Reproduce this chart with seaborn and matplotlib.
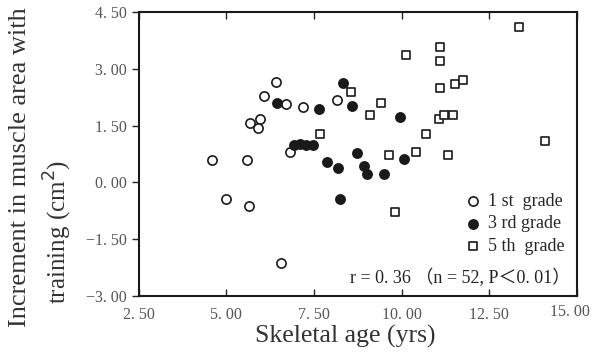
import numpy as np
import pandas as pd
import matplotlib
matplotlib.use("Agg")
import matplotlib.pyplot as plt
import matplotlib.transforms as mtransforms
import seaborn as sns

# values
first_x = [6.41, 6.07, 6.70, 7.19, 8.16, 5.68, 5.96, 5.89, 6.82, 4.58, 5.58, 4.99, 5.64, 6.56]
first_y = [2.66, 2.28, 2.06, 1.99, 2.17, 1.56, 1.68, 1.43, 0.79, 0.60, 0.58, -0.43, -0.62, -2.13]

third_x = [8.32, 6.44, 7.64, 8.59, 9.94, 6.93, 7.10, 7.27, 7.48, 8.73, 7.88, 8.19, 8.92, 9.02, 9.50, 10.06, 8.24]
third_y = [2.62, 2.09, 1.94, 2.02, 1.74, 1.00, 1.02, 1.00, 0.98, 0.77, 0.54, 0.39, 0.44, 0.23, 0.23, 0.61, -0.43]

fifth_x = [13.34, 10.11, 11.10, 11.10, 11.10, 11.52, 11.76, 8.56, 9.41, 9.09, 11.05, 11.21, 11.45,
           7.67, 10.68, 14.08, 9.64, 10.40, 11.33, 9.81]
fifth_y = [4.10, 3.37, 3.57, 3.22, 2.49, 2.59, 2.70, 2.39, 2.09, 1.79, 1.68, 1.79, 1.79,
           1.27, 1.29, 1.08, 0.73, 0.81, 0.73, -0.78]

grade_labels = ["1 st  grade", "3 rd grade", "5 th  grade"]
x_ticks = [2.5, 5.0, 7.5, 10.0, 12.5, 15.0]
y_ticks = [-3.0, -1.5, 0.0, 1.5, 3.0, 4.5]

df = pd.concat([
    pd.DataFrame({"age": first_x, "inc": first_y, "grade": grade_labels[0]}),
    pd.DataFrame({"age": third_x, "inc": third_y, "grade": grade_labels[1]}),
    pd.DataFrame({"age": fifth_x, "inc": fifth_y, "grade": grade_labels[2]}),
])

sns.set_style("ticks")
plt.rcParams['font.family'] = ['Liberation Serif', 'Noto Sans CJK SC', 'DejaVu Sans']

fig = plt.figure(figsize=(5.93, 3.56), dpi=100)
ax = fig.add_axes([0.234, 0.169, 0.739, 0.797])

styles = {
    grade_labels[0]: dict(marker="o", facecolor="white", s=44),
    grade_labels[1]: dict(marker="o", facecolor="#1a1a1a", s=44),
    grade_labels[2]: dict(marker="s", facecolor="white", s=40),
}
for g in grade_labels:
    sub = df[df["grade"] == g]
    st = styles[g]
    sns.scatterplot(x=sub["age"], y=sub["inc"], ax=ax, marker=st["marker"], s=st["s"],
                    facecolor=st["facecolor"], edgecolor="#1a1a1a", linewidth=1.2, label=g)

ax.set_xlim(2.5, 15.0)
ax.set_ylim(-3.0, 4.5)
ax.set_xticks(x_ticks)
ax.set_yticks(y_ticks)
ax.set_xticklabels([f"{v:.2f}".replace(".", ". ").replace("-", "\u2212") for v in x_ticks],
                   color="#555555", fontsize=11.5)
ax.set_yticklabels([f"{v:.2f}".replace(".", ". ").replace("-", "\u2212") for v in y_ticks],
                   color="#555555", fontsize=11.5)
ax.tick_params(axis="x", direction="in", top=True, length=5, width=1, pad=8)
ax.tick_params(axis="y", direction="out", length=5, width=1)
# last x label sits a bit left and higher in the reference
last = ax.get_xticklabels()[-1]
last.set_transform(last.get_transform() + mtransforms.ScaledTranslation(-0.07, 0.03, fig.dpi_scale_trans))
for sp in ax.spines.values():
    sp.set_visible(True)
    sp.set_linewidth(1.5)
    sp.set_color("#1a1a1a")

ax.set_xlabel("")
ax.set_ylabel("")
fig.text(0.583, 0.056, "Skeletal age (yrs)", ha="center", va="center", fontsize=18.5, color="#333333")
fig.text(0.034, 0.531, "Increment in muscle area with", ha="center", va="center",
         rotation=90, fontsize=19, color="#333333")
fig.text(0.098, 0.348, "training (cm$^2$)", ha="center", va="center",
         rotation=90, fontsize=18, color="#333333")

leg = ax.legend(loc="lower right", bbox_to_anchor=(1.0, 0.1), frameon=False, fontsize=13,
                handletextpad=0.3, labelspacing=0.3, handlelength=1.0, borderpad=0.2)

ax.text(0.985, 0.03, "r = 0. 36 \uff08n = 52, P\uff1c0. 01\uff09", transform=ax.transAxes,
        ha="right", va="bottom", fontsize=13, color="#222222")

fig.savefig("out.png", dpi=100)
